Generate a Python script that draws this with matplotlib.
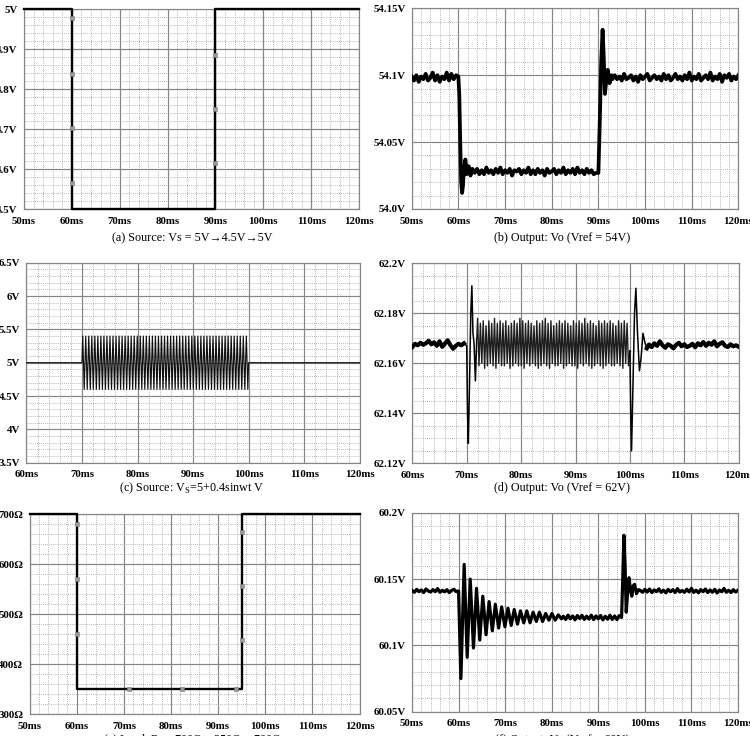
import numpy as np
import matplotlib
matplotlib.use('Agg')
import matplotlib.pyplot as plt
from matplotlib.ticker import MultipleLocator, FixedLocator, FixedFormatter

plt.rcParams['font.family'] = ['Liberation Serif', 'DejaVu Serif']

W, H = 750, 736

# ---- (a) source step Vs
a_t = [50, 60, 60, 90, 90, 120]
a_v = [5.0, 5.0, 4.5, 4.5, 5.0, 5.0]
a_mark_t = [60, 60, 60, 60, 90, 90, 90]
a_mark_v = [4.978, 4.838, 4.704, 4.567, 4.886, 4.75, 4.615]
a_yticks = [4.5, 4.6, 4.7, 4.8, 4.9, 5.0]
a_ylabels = ['4.5V', '4.6V', '4.7V', '4.8V', '4.9V', '5V']

# ---- (b) output Vo, Vref = 54V
b_pre_level = 54.098
b_pre_mv = [1, -2, 2, -3, 1, -1, 3, -2, 0, 4, -2, 2, -3, 1, -1, 4, -2, 3, -1, 2]
b_fall_t = [60.0, 60.2, 60.4, 60.6, 60.8, 61.0, 61.2, 61.5, 61.8, 62.2, 62.6, 63.0]
b_fall_v = [54.099, 54.085, 54.05, 54.02, 54.012, 54.018, 54.030, 54.037, 54.026, 54.032, 54.025, 54.030]
b_low_level = 54.028
b_low_mv = [-1, 2, -2, 1, -2, 3, -1, 1, -2, 2,
            -1, 3, -2, 1, -1, 2, -3, 1, 0, 2,
            -2, 1, -1, 3, -2, 1, -2, 2, -1, 1,
            -3, 2, -1, 0, 2, -2, 1, -1, 3, -2,
            1, -1, 2, -2, 3, -1, 1, -2, 2, -1,
            1, -2, -1]
b_rise_t = [90.0, 90.3, 90.6, 90.9, 91.1, 91.4, 91.7, 92.0, 92.4, 92.8, 93.0]
b_rise_v = [54.027, 54.065, 54.11, 54.134, 54.118, 54.086, 54.096, 54.104, 54.094, 54.100, 54.097]
b_post_level = 54.098
b_post_mv = [2, -1, 1, -2, 3, -1, 0, 2, -2, 1,
             -3, 2, -1, 1, 3, -2, 0, 2, -1, 1,
             -2, 3, -1, 2, -2, 0, 3, -1, 1, -2,
             2, -1, 4, -2, 1, -1, 3, -2, 0, 2,
             -1, 4, -2, 1, -1, 3, -3, 2, 0, 3,
             -2, 1, -1, 2]
b_yticks = [54.0, 54.05, 54.1, 54.15]
b_ylabels = ['54.0V', '54.05V', '54.1V', '54.15V']

# ---- (c) source Vs = 5 + 0.4 sin wt
c_level = 5.0
c_hi, c_lo = 5.4, 4.6
c_cycles = 55
c_yticks = [3.5, 4.0, 4.5, 5.0, 5.5, 6.0, 6.5]
c_ylabels = ['3.5V', '4V', '4.5V', '5V', '5.5V', '6V', '6.5V']

# ---- (d) output Vo, Vref = 62V
d_level = 62.167
d_pre_mv = [-0.5, 0.8, 0.2, 1.2, 0.4, 1.0, 2.0, 0.6, 1.4, 0.0,
            1.8, -0.4, 0.9, 2.2, 0.3, -1.2, 0.0, 0.8, 0.2, 1.0]
d_in_t = [70.0, 70.15, 70.3, 70.5, 70.75, 70.95, 71.15, 71.35, 71.6, 71.85]
d_in_v = [62.167, 62.140, 62.128, 62.150, 62.180, 62.191, 62.172, 62.168, 62.153, 62.170]
d_hi_mv = [11, 9, 10, 8, 10, 9, 11, 9, 10, 9,
           10, 8, 9, 10, 9, 11, 10, 9, 10, 9,
           8, 10, 9, 10, 11, 9, 10, 8, 9, 10,
           9, 10, 9, 8, 10, 9, 10, 9, 11, 9,
           10, 9, 8, 10, 9, 10, 9, 10, 9, 8,
           10, 9, 10, 9]
d_lo_mv = [-8, -7, -9, -8, -7, -8, -9, -7, -8, -8,
           -7, -9, -8, -7, -8, -8, -9, -7, -8, -7,
           -8, -9, -8, -7, -8, -9, -7, -8, -8, -7,
           -9, -8, -7, -8, -8, -9, -7, -8, -7, -8,
           -9, -8, -7, -8, -9, -8, -7, -8, -8, -7,
           -8, -9, -7, -8]
d_out_t = [100.0, 100.15, 100.3, 100.55, 100.85, 101.1, 101.4, 101.75, 102.05, 102.4, 102.8, 103.1]
d_out_v = [62.165, 62.140, 62.125, 62.150, 62.180, 62.190, 62.172, 62.157, 62.162, 62.172, 62.168, 62.166]
d_post_mv = [0.5, -0.5, 1.0, 0.0, 1.8, 0.2, -0.8, 0.6, 0.0, -1.0,
             0.4, 1.2, -0.2, 0.6, -0.5, 0.0, 0.8, -0.6, 1.0, 0.2,
             1.5, 0.0, 1.2, 0.4, 1.8, -0.2, 0.8, 1.4, 0.0, -0.5,
             0.6, -0.2, 0.2, -0.4]
d_yticks = [62.12, 62.14, 62.16, 62.18, 62.2]
d_ylabels = ['62.12V', '62.14V', '62.16V', '62.18V', '62.2V']

# ---- (e) load step
e_t = [50, 60, 60, 95, 95, 120]
e_v = [700, 700, 350, 350, 700, 700]
e_mark_t = [60, 60, 60, 71.1, 82.4, 93.7, 95, 95, 95]
e_mark_v = [680, 571, 461, 350, 350, 350, 665, 557, 448]
e_yticks = [300, 400, 500, 600, 700]
e_ylabels = ['300Ω', '400Ω', '500Ω', '600Ω', '700Ω']

# ---- (f) output Vo, Vref = 60V
f_pre_level = 60.141
f_pre_mv = [0.5, -1.0, 1.2, -0.5, 0.8, -1.2, 1.5, 0.0, -0.8, 1.0,
            -0.5, 1.8, -1.0, 0.5, -0.6, 1.0, -1.2, 0.4, 1.3, -0.5]
f_ring_t = [60.0, 60.5, 61.2, 61.85, 62.5, 63.2, 63.85, 64.55, 65.2, 65.9,
            66.55, 67.25, 67.9, 68.6, 69.25, 69.95, 70.6, 71.3, 71.95, 72.65,
            73.3, 74.0, 74.65, 75.35, 76.0, 76.7, 77.35, 78.05, 78.7, 79.4,
            80.05, 80.75, 81.4, 82.1]
f_ring_v = [60.141, 60.075, 60.161, 60.091, 60.150, 60.098, 60.143, 60.104, 60.137, 60.108,
            60.133, 60.111, 60.131, 60.113, 60.129, 60.114, 60.128, 60.115, 60.127, 60.116,
            60.126, 60.117, 60.126, 60.117, 60.125, 60.118, 60.125, 60.118, 60.124, 60.119,
            60.124, 60.119, 60.123, 60.120]
f_low_level = 60.121
f_low_mv = [1.0, -1.5, 1.8, -1.0, 1.2, -1.8, 1.5, -0.8, 1.6, -1.5,
            1.0, -1.2, 1.8, -1.6, 1.2, -1.0, 1.5, -1.8, 1.0, -1.3,
            1.7, -1.5, 1.2, -1.6, 1.4]
f_rise_t = [95.0, 95.25, 95.5, 95.75, 96.0, 96.3, 96.6, 96.9, 97.2, 97.5, 97.8, 98.2, 98.6]
f_rise_v = [60.121, 60.150, 60.183, 60.160, 60.125, 60.140, 60.151, 60.142, 60.137, 60.145,
            60.146, 60.139, 60.142]
f_post_level = 60.141
f_post_mv = [0.5, -1.0, 1.2, -0.8, 1.5, -1.2, 0.8, -0.5, 1.6, -1.0,
             0.6, -1.4, 1.2, -0.6, 1.0, -1.2, 1.8, -0.8, 0.4, -1.0,
             1.3, -0.7, 2.0, -1.1, 0.6, -1.4, 1.0, -0.5, 1.5, -1.2,
             0.8, -0.9, 1.2, -1.5, 0.7, -0.6, 1.9, -1.0, 0.5, -1.2,
             1.0, -0.8, 0.6]
f_yticks = [60.05, 60.1, 60.15, 60.2]
f_ylabels = ['60.05V', '60.1V', '60.15V', '60.2V']

x_ticks_50 = [50, 60, 70, 80, 90, 100, 110, 120]
x_ticks_60 = [60, 70, 80, 90, 100, 110, 120]


def box(x0, y0, x1, y1):
    return [x0 / W, 1 - y1 / H, (x1 - x0) / W, (y1 - y0) / H]


def setup(ax, xticks, yticks, ylabels, ystep):
    ax.set_xlim(xticks[0], xticks[-1])
    ax.set_ylim(yticks[0], yticks[-1])
    ax.xaxis.set_major_locator(FixedLocator(xticks))
    ax.xaxis.set_major_formatter(FixedFormatter(['%dms' % t for t in xticks]))
    ax.xaxis.set_minor_locator(MultipleLocator(2))
    ax.yaxis.set_major_locator(FixedLocator(yticks))
    ax.yaxis.set_major_formatter(FixedFormatter(ylabels))
    ax.yaxis.set_minor_locator(MultipleLocator(ystep))
    ax.grid(which='major', color='#858585', lw=0.85)
    ax.grid(which='minor', color='#a0a0a0', lw=0.6, ls=(0, (1, 1.5)))
    ax.set_axisbelow(True)
    ax.tick_params(which='both', length=0)
    ax.tick_params(axis='x', pad=5.5, labelsize=7.8)
    ax.tick_params(axis='y', pad=4.5, labelsize=7.8)
    for lab in ax.get_xticklabels() + ax.get_yticklabels():
        lab.set_fontweight('bold')
    for s in ax.spines.values():
        s.set_color('#858585')
        s.set_linewidth(0.85)


def noisy(start, level, mv):
    t = np.arange(len(mv)) * 0.5 + start
    return t, level + np.array(mv) / 1000.0


fig = plt.figure(figsize=(W / 100, H / 100), dpi=100)

# (a)
ax = fig.add_axes(box(24, 9.3, 359, 209.3))
setup(ax, x_ticks_50, a_yticks, a_ylabels, 0.02)
ax.plot(a_t, a_v, color='black', lw=1.7, clip_on=False, zorder=3)
ax.plot(a_mark_t, a_mark_v, 's', ms=2.2, mfc='#9a9a9a', mec='#7a7a7a', mew=0.4, zorder=4)
fig.text(192 / W, 1 - 238 / H, '(a) Source: Vs = 5V→4.5V→5V', ha='center', va='center', fontsize=8.7)

# (b)
ax = fig.add_axes(box(411.7, 8.3, 738.4, 209))
setup(ax, x_ticks_50, b_yticks, b_ylabels, 0.01)
t1, v1 = noisy(50, b_pre_level, b_pre_mv)
t3, v3 = noisy(63.5, b_low_level, b_low_mv)
t5, v5 = noisy(93.5, b_post_level, b_post_mv)
b_t = np.concatenate([t1, b_fall_t, t3, b_rise_t, t5])
b_v = np.concatenate([v1, b_fall_v, v3, b_rise_v, v5])
ax.plot(b_t, b_v, color='black', lw=2.7, zorder=3)
fig.text(562 / W, 1 - 238 / H, '(b) Output: Vo (Vref = 54V)', ha='center', va='center', fontsize=8.7)

# (c)
ax = fig.add_axes(box(26.4, 262.7, 359.7, 462.7))
setup(ax, x_ticks_60, c_yticks, c_ylabels, 0.1)
half = 30.0 / c_cycles / 2
c_osc_t = 70 + half / 2 + np.arange(2 * c_cycles) * half
c_osc_v = np.tile([c_hi, c_lo], c_cycles)
c_t = np.concatenate([[60, 70], c_osc_t, [100, 120]])
c_v = np.concatenate([[c_level, c_level], c_osc_v, [c_level, c_level]])
ax.plot(c_t, c_v, color='#111111', lw=0.85, zorder=3)
fig.text(192 / W, 1 - 488 / H, '(c) Source: V$_\\mathregular{S}$=5+0.4sinwt V', ha='center', va='center', fontsize=8.7)

# (d)
ax = fig.add_axes(box(412.3, 263.3, 738.7, 463.3))
setup(ax, x_ticks_60, d_yticks, d_ylabels, 0.005)
t1, v1 = noisy(60, d_level, d_pre_mv)
ax.plot(t1, v1, color='black', lw=3.0, zorder=3)
ax.plot(np.concatenate([t1[-1:], d_in_t]), np.concatenate([v1[-1:], d_in_v]), color='black', lw=1.1, zorder=3)
per = 28.0 / len(d_hi_mv)
d_band_t = 72 + np.arange(2 * len(d_hi_mv)) * per / 2
d_band_v = d_level + np.column_stack([d_hi_mv, d_lo_mv]).ravel() / 1000.0
ax.plot(np.concatenate([d_in_t[-1:], d_band_t, d_out_t[:1]]),
        np.concatenate([d_in_v[-1:], d_band_v, d_out_v[:1]]), color='#1e1e1e', lw=1.0, zorder=3)
ax.plot(d_out_t, d_out_v, color='black', lw=1.1, zorder=3)
t5, v5 = noisy(103.5, d_level, d_post_mv)
ax.plot(np.concatenate([d_out_t[-1:], t5]), np.concatenate([d_out_v[-1:], v5]), color='black', lw=3.0, zorder=3)
fig.text(562 / W, 1 - 488 / H, '(d) Output: Vo (Vref = 62V)', ha='center', va='center', fontsize=8.7)

# (e)
ax = fig.add_axes(box(29.6, 514, 359.6, 714))
setup(ax, x_ticks_50, e_yticks, e_ylabels, 20)
ax.plot(e_t, e_v, color='black', lw=1.7, clip_on=False, zorder=3)
ax.plot(e_mark_t, e_mark_v, 's', ms=2.2, mfc='#9a9a9a', mec='#7a7a7a', mew=0.4, zorder=4)
fig.text(192 / W, 1 - 740 / H, '(e) Load: R$_\\mathregular{L}$= 700Ω→350Ω→700Ω', ha='center', va='center', fontsize=8.7)

# (f)
ax = fig.add_axes(box(412, 512.7, 738, 711.7))
setup(ax, x_ticks_50, f_yticks, f_ylabels, 0.01)
t1, v1 = noisy(50, f_pre_level, f_pre_mv)
t3, v3 = noisy(82.5, f_low_level, f_low_mv)
t5, v5 = noisy(99, f_post_level, f_post_mv)
f_t = np.concatenate([t1, f_ring_t, t3, f_rise_t, t5])
f_v = np.concatenate([v1, f_ring_v, v3, f_rise_v, v5])
ax.plot(f_t, f_v, color='black', lw=2.3, zorder=3)
fig.text(562 / W, 1 - 740 / H, '(f) Output: Vo (Vref = 60V)', ha='center', va='center', fontsize=8.7)

fig.savefig('out.png', dpi=100)
